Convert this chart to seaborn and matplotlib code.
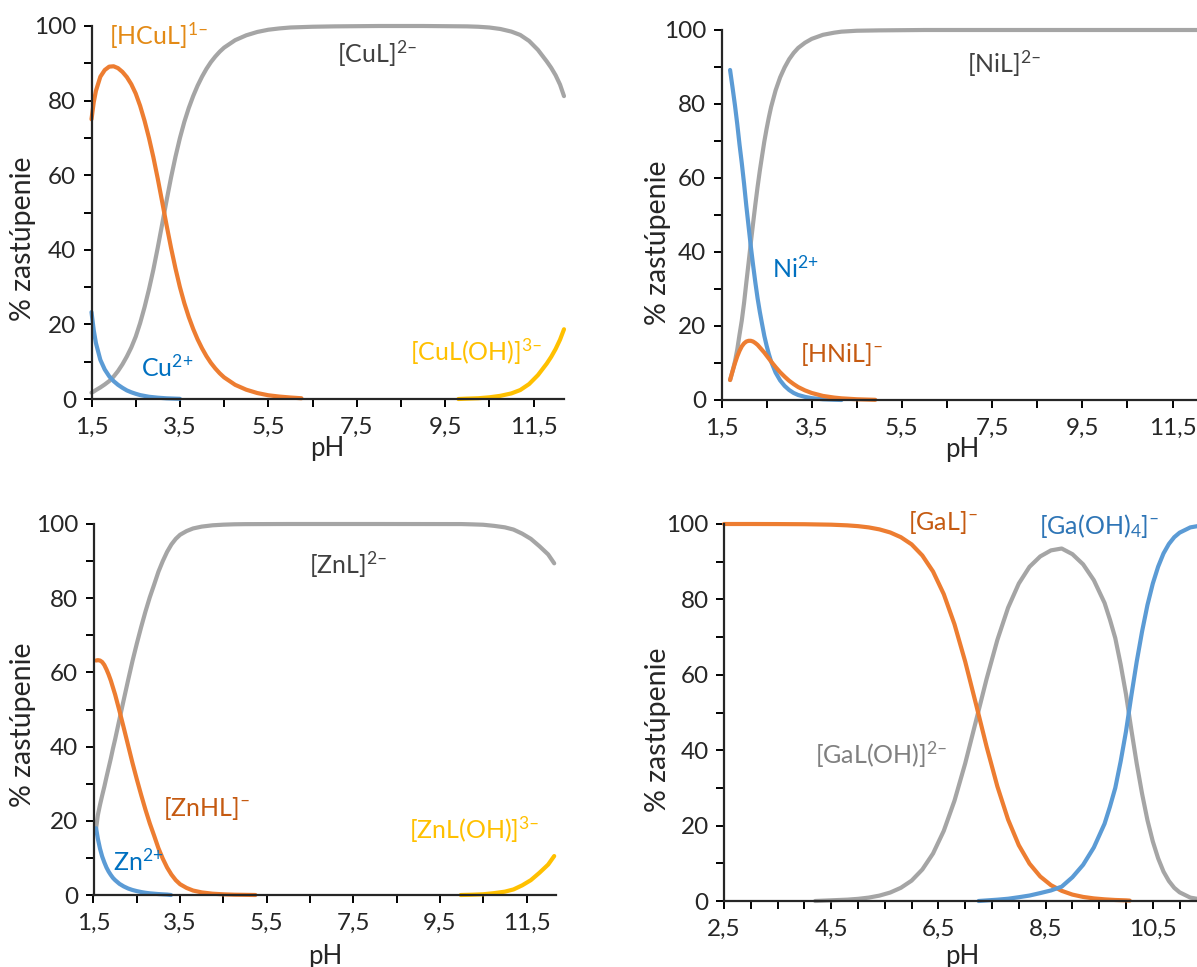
import numpy as np
import matplotlib
matplotlib.use('Agg')
import matplotlib.pyplot as plt
import seaborn as sns

# ---------------- data ----------------
# Cu panel
cu_ph_lo = [1.5, 1.55, 1.6, 1.7, 1.8, 1.9, 2.0, 2.1, 2.2, 2.3, 2.4, 2.5, 2.6, 2.7, 2.8, 2.9,
            3.0, 3.1, 3.2, 3.3, 3.4, 3.5, 3.6, 3.7, 3.8, 3.9, 4.0, 4.1, 4.2, 4.3, 4.4, 4.5,
            4.75, 5.0, 5.25, 5.5, 5.75, 6.0, 6.25]
cu_hcul = [75, 79.5, 82.6, 86.4, 88.2, 89.1, 89.2, 88.7, 87.7, 86.3, 84.4, 81.9, 78.6, 74.6, 70.0, 64.8,
           59.0, 52.8, 46.5, 40.5, 35.0, 30.0, 25.7, 22.0, 18.8, 16.0, 13.6, 11.5, 9.7, 8.2, 6.9, 5.8,
           3.8, 2.5, 1.6, 1.0, 0.65, 0.4, 0.2]
cu_ph_cu = [1.5, 1.55, 1.6, 1.7, 1.8, 1.9, 2.0, 2.1, 2.2, 2.3, 2.4, 2.5, 2.6, 2.8, 3.0, 3.2, 3.5]
cu_free = [23.3, 18.5, 15, 10.5, 7.9, 6.1, 4.8, 3.8, 3.0, 2.3, 1.8, 1.4, 1.05, 0.6, 0.35, 0.18, 0.05]
cu_ph_cul = [1.5, 1.55, 1.6, 1.7, 1.8, 1.9, 2.0, 2.1, 2.2, 2.3, 2.4, 2.5, 2.6, 2.7, 2.8, 2.9,
             3.0, 3.1, 3.2, 3.3, 3.4, 3.5, 3.6, 3.7, 3.8, 3.9, 4.0, 4.1, 4.2, 4.3, 4.4, 4.5,
             4.75, 5.0, 5.25, 5.5, 5.75, 6.0, 6.5, 7.0, 8.0, 9.0, 9.5, 10.0, 10.25, 10.5, 10.75,
             11.0, 11.2, 11.4, 11.6, 11.8, 11.9, 12.0, 12.1, 12.19]
cu_cul = [1.7, 2.0, 2.4, 3.1, 3.9, 4.8, 6.0, 7.5, 9.3, 11.4, 13.8, 16.7, 20.35, 24.6, 29.4, 34.7,
          40.65, 46.95, 53.3, 59.4, 64.95, 69.95, 74.3, 78.0, 81.2, 84.0, 86.4, 88.5, 90.3, 91.8, 93.1, 94.2,
          96.2, 97.5, 98.4, 99.0, 99.35, 99.6, 99.8, 99.9, 100, 100, 99.95, 99.9, 99.8, 99.6, 99.2,
          98.5, 97.6, 96.0, 93.6, 90.5, 88.8, 86.8, 84.3, 81.2]
cu_ph_oh = [9.8, 10.0, 10.25, 10.5, 10.75, 11.0, 11.2, 11.4, 11.6, 11.8, 11.9, 12.0, 12.1, 12.19]
cu_culoh = [0.0, 0.1, 0.2, 0.45, 0.85, 1.5, 2.4, 4.0, 6.4, 9.5, 11.3, 13.4, 15.9, 18.7]

# Ni panel
ni_ph = [1.69, 1.75, 1.8, 1.85, 1.9, 1.95, 2.0, 2.05, 2.1, 2.15, 2.2, 2.25, 2.3, 2.35, 2.4, 2.45,
         2.5, 2.55, 2.6, 2.7, 2.8, 2.9, 3.0, 3.1, 3.2, 3.35, 3.5, 3.75, 4.0, 4.16]
ni_free = [89.2, 84, 79.5, 74.5, 69, 64, 58.5, 52.5, 47, 41.5, 36.5, 31.8, 27.5, 23.8, 20.5, 17.3,
           14.7, 12.4, 10.4, 7.4, 5.3, 3.8, 2.7, 1.9, 1.35, 0.85, 0.5, 0.2, 0.07, 0.0]
ni_ph_h = ni_ph + [4.5, 4.91]
ni_hnil = [5.4, 8, 10, 11.8, 13.3, 14.5, 15.3, 15.8, 16.0, 16.0, 15.8, 15.4, 14.9, 14.2, 13.5, 12.8,
           12.0, 11.2, 10.4, 8.9, 7.5, 6.3, 5.2, 4.3, 3.5, 2.6, 1.9, 1.1, 0.65, 0.45, 0.2, 0.05]
ni_ph_l = ni_ph + [4.5, 5.0, 6.0, 12.6]
ni_nil = [5.4, 8, 10.5, 13.7, 17.7, 21.5, 26.2, 31.7, 37, 42.5, 47.7, 52.8, 57.6, 62, 66, 69.9,
          73.3, 76.4, 79.2, 83.7, 87.2, 89.9, 92.1, 93.8, 95.15, 96.55, 97.6, 98.7, 99.28, 99.55,
          99.8, 99.9, 100, 100]

# Zn panel
zn_ph = [1.56, 1.6, 1.65, 1.7, 1.75, 1.8, 1.85, 1.9, 1.95, 2.0, 2.1, 2.2, 2.3, 2.4, 2.5, 2.6,
         2.7, 2.8, 2.9, 3.0, 3.1, 3.2, 3.3, 3.4, 3.5, 3.65, 3.8, 4.0, 4.25, 4.5, 4.75, 5.0, 5.24]
zn_hl = [63.2, 63.3, 63.2, 62.8, 62, 60.8, 59.4, 57.8, 55.9, 54, 49.6, 45, 40.3, 35.6, 31.2, 27,
         23, 19.3, 16, 12.6, 9.8, 7.4, 5.5, 4.0, 2.9, 1.9, 1.2, 0.7, 0.35, 0.18, 0.08, 0.04, 0.0]
zn_ph_zn = [1.56, 1.6, 1.65, 1.7, 1.75, 1.8, 1.85, 1.9, 1.95, 2.0, 2.1, 2.2, 2.3, 2.4, 2.5, 2.6,
            2.7, 2.8, 2.9, 3.0, 3.1, 3.2, 3.29]
zn_free = [18, 15.2, 12.5, 10.4, 8.8, 7.4, 6.3, 5.4, 4.6, 4.0, 3.0, 2.3, 1.75, 1.35, 1.05, 0.8,
           0.6, 0.45, 0.35, 0.25, 0.18, 0.12, 0.0]
zn_ph_l = [1.56, 1.6, 1.65, 1.7, 1.75, 1.8, 1.85, 1.9, 1.95, 2.0, 2.1, 2.2, 2.3, 2.4, 2.5, 2.6,
           2.7, 2.8, 2.9, 3.0, 3.1, 3.2, 3.3, 3.4, 3.5, 3.65, 3.8, 4.0, 4.25, 4.5, 4.75, 5.0,
           6.0, 8.0, 10.0, 10.25, 10.5, 10.75, 11.0, 11.2, 11.4, 11.6, 11.8, 11.9, 12.0, 12.14]
zn_l = [18, 21.5, 24.3, 26.8, 29.2, 31.8, 34.3, 36.8, 39.5, 42, 47.4, 52.7, 57.95, 63.05, 67.75, 72.2,
        76.4, 80.25, 83.65, 87.15, 90.0, 92.5, 94.5, 96.0, 97.1, 98.1, 98.8, 99.3, 99.65, 99.82, 99.92, 99.96,
        100, 100, 99.98, 99.9, 99.8, 99.5, 99.1, 98.5, 97.4, 96.0, 94.0, 92.9, 91.8, 89.4]
zn_ph_oh = [9.98, 10.25, 10.5, 10.75, 11.0, 11.2, 11.4, 11.6, 11.8, 11.9, 12.0, 12.14]
zn_loh = [0.0, 0.08, 0.2, 0.5, 0.9, 1.5, 2.6, 4.0, 6.0, 7.1, 8.2, 10.5]

# Ga panel
ga_ph = [2.5, 3.0, 3.5, 4.0, 4.5, 4.8, 5.0, 5.2, 5.4, 5.6, 5.8, 6.0, 6.2, 6.4, 6.6, 6.8, 7.0,
         7.2, 7.4, 7.6, 7.8, 8.0, 8.2, 8.4, 8.6, 8.8, 9.0, 9.2, 9.4, 9.6, 9.8, 10.0, 10.07]
ga_l = [100, 100, 99.98, 99.94, 99.82, 99.64, 99.43, 99.1, 98.57, 97.76, 96.5, 94.6, 91.65, 87.4, 81.4, 73.4, 63.5,
        52.3, 40.9, 30.4, 21.6, 14.8, 9.9, 6.5, 4.2, 2.7, 1.7, 1.08, 0.69, 0.44, 0.27, 0.17, 0.1]
ga_ph_oh = [4.2, 4.5, 4.8, 5.0, 5.2, 5.4, 5.6, 5.8, 6.0, 6.2, 6.4, 6.6, 6.8, 7.0, 7.2, 7.4, 7.6,
            7.8, 8.0, 8.2, 8.4, 8.6, 8.8, 9.0, 9.2, 9.4, 9.6, 9.7, 9.8, 9.9, 10.0, 10.1, 10.2,
            10.3, 10.4, 10.5, 10.6, 10.7, 10.8, 10.9, 11.0, 11.2, 11.4, 11.5]
ga_loh = [0.0, 0.18, 0.36, 0.57, 0.9, 1.43, 2.24, 3.5, 5.4, 8.35, 12.6, 18.6, 26.6, 36.5, 47.7, 58.95, 69.25,
          77.8, 84.2, 88.65, 91.4, 93.0, 93.5, 92.0, 89.3, 85.1, 79.06, 74.65, 69.73, 62.78, 54.83, 45.4, 36.45,
          28.45, 21.45, 15.8, 11.3, 7.8, 5.3, 3.5, 2.3, 0.9, 0.4, 0.25]
ga_ph_4 = [7.25, 7.4, 7.6, 7.8, 8.0, 8.2, 8.4, 8.6, 8.8, 9.0, 9.2, 9.4, 9.6, 9.7, 9.8, 9.9, 10.0,
           10.1, 10.2, 10.3, 10.4, 10.5, 10.6, 10.7, 10.8, 10.9, 11.0, 11.2, 11.4, 11.5]
ga_oh4 = [0.0, 0.15, 0.35, 0.6, 1.0, 1.45, 2.1, 2.8, 3.8, 6.3, 9.6, 14.2, 20.5, 25, 30, 37, 45,
          54.5, 63.5, 71.5, 78.5, 84.2, 88.7, 92.2, 94.7, 96.5, 97.7, 99.1, 99.6, 99.75]

# ---------------- style ----------------
sns.set_style('ticks')
plt.rcParams['font.family'] = ['Lato', 'DejaVu Sans']
plt.rcParams['mathtext.fontset'] = 'custom'
plt.rcParams['mathtext.rm'] = 'Lato'
plt.rcParams['mathtext.it'] = 'Lato'
plt.rcParams['axes.linewidth'] = 1.6

ORANGE = '#ED7D31'
GRAY = '#A5A5A5'
BLUE = '#5B9BD5'
YELLOW = '#FFC000'
FS_TXT = 18

W, H = 1197, 967
fig = plt.figure(figsize=(W / 100, H / 100), dpi=100)


def make_ax(left, right, top, bottom, xlim, xstep, xlabels):
    ax = fig.add_axes([left / W, 1 - bottom / H, (right - left) / W, (bottom - top) / H])
    ax.set_xlim(*xlim)
    ax.set_ylim(0, 100)
    xt = np.arange(xlim[0], xlim[1] + 1e-9, xstep)
    ax.set_xticks(xt)
    ax.set_xticklabels([('%g' % v).replace('.', ',') if round(v, 2) in xlabels else '' for v in xt])
    yt = np.arange(0, 101, 10)
    ax.set_yticks(yt)
    ax.set_yticklabels([str(v) if v % 20 == 0 else '' for v in yt])
    ax.tick_params(axis='both', direction='out', length=6, width=1.4, labelsize=17.5, color='black', pad=5)
    ax.tick_params(axis='x', pad=7)
    sns.despine(ax=ax)
    ax.set_xlabel('pH', fontsize=18.5)
    ax.set_ylabel('% zastúpenie', fontsize=20.5)
    return ax


def curve(ax, x, y, color):
    sns.lineplot(x=x, y=y, ax=ax, color=color, linewidth=3.0, sort=False, clip_on=False)


lab13 = [1.5, 3.5, 5.5, 7.5, 9.5, 11.5]

# panel Cu
w1 = 564 - 91.5
ax1 = make_ax(91.5, 564, 26, 399, (1.5, 12.19), 1.0, lab13)
curve(ax1, cu_ph_cul, cu_cul, GRAY)
curve(ax1, cu_ph_lo, cu_hcul, ORANGE)
curve(ax1, cu_ph_cu, cu_free, BLUE)
curve(ax1, cu_ph_oh, cu_culoh, YELLOW)
ax1.text(1.9, 97.5, r'[HCuL]$^{1–}$', color='#E38A16', fontsize=FS_TXT, va='center')
ax1.text(7.05, 92.5, r'[CuL]$^{2–}$', color='#404040', fontsize=FS_TXT, va='center')
ax1.text(2.62, 8.5, r'Cu$^{2\!+}$', color='#0070C0', fontsize=FS_TXT, va='center')
ax1.text(8.7, 12.8, r'[CuL(OH)]$^{3–}$', color=YELLOW, fontsize=FS_TXT, va='center')
ax1.xaxis.set_label_coords((327 - 91.5) / w1, -0.1)
ax1.yaxis.set_label_coords((36 - 91.5) / w1, 0.43)

# panel Ni
w2 = 11 * 45.1
ax2 = make_ax(721.5, 721.5 + w2, 30, 400, (1.5, 12.5), 1.0, lab13)
curve(ax2, ni_ph_l, ni_nil, GRAY)
curve(ax2, ni_ph, ni_free, BLUE)
curve(ax2, ni_ph_h, ni_hnil, ORANGE)
ax2.text(6.95, 91, r'[NiL]$^{2–}$', color='#404040', fontsize=FS_TXT, va='center')
ax2.text(2.63, 35.5, r'Ni$^{2\!+}$', color='#0070C0', fontsize=FS_TXT, va='center')
ax2.text(3.24, 12.2, r'[HNiL]$^{–}$', color='#C55A11', fontsize=FS_TXT, va='center')
ax2.xaxis.set_label_coords((962 - 721.5) / w2, -0.1)
ax2.yaxis.set_label_coords((671 - 721.5) / w2, 0.424)

# panel Zn
w3 = 10.68 * 43.3
ax3 = make_ax(93.5, 93.5 + w3, 524, 895, (1.5, 12.18), 1.0, lab13)
curve(ax3, zn_ph_l, zn_l, GRAY)
curve(ax3, zn_ph, zn_hl, ORANGE)
curve(ax3, zn_ph_zn, zn_free, BLUE)
curve(ax3, zn_ph_oh, zn_loh, YELLOW)
ax3.text(6.48, 89, r'[ZnL]$^{2–}$', color='#404040', fontsize=FS_TXT, va='center')
ax3.text(3.1, 23.4, r'[ZnHL]$^{–}$', color='#C55A11', fontsize=FS_TXT, va='center')
ax3.text(1.94, 9.2, r'Zn$^{2\!+}$', color='#0070C0', fontsize=FS_TXT, va='center')
ax3.text(8.79, 17.5, r'[ZnL(OH)]$^{3–}$', color=YELLOW, fontsize=FS_TXT, va='center')
ax3.xaxis.set_label_coords((325 - 93.5) / w3, -0.132)
ax3.yaxis.set_label_coords((36 - 93.5) / w3, 0.458)

# panel Ga
w4 = 9 * 53.6
ax4 = make_ax(724, 724 + w4, 524, 901, (2.5, 11.5), 0.5, [2.5, 4.5, 6.5, 8.5, 10.5])
curve(ax4, ga_ph_oh, ga_loh, GRAY)
curve(ax4, ga_ph, ga_l, ORANGE)
curve(ax4, ga_ph_4, ga_oh4, BLUE)
ax4.text(5.93, 100.5, r'[GaL]$^{–}$', color='#C55A11', fontsize=FS_TXT, va='center')
ax4.text(8.37, 99.5, r'[Ga(OH)$_4$]$^{–}$', color='#2E75B6', fontsize=FS_TXT, va='center')
ax4.text(4.2, 38.7, r'[GaL(OH)]$^{2–}$', color='#808080', fontsize=FS_TXT, va='center')
ax4.xaxis.set_label_coords((962 - 724) / w4, -0.114)
ax4.yaxis.set_label_coords((671 - 724) / w4, 0.453)

fig.savefig('out.png', dpi=100)
